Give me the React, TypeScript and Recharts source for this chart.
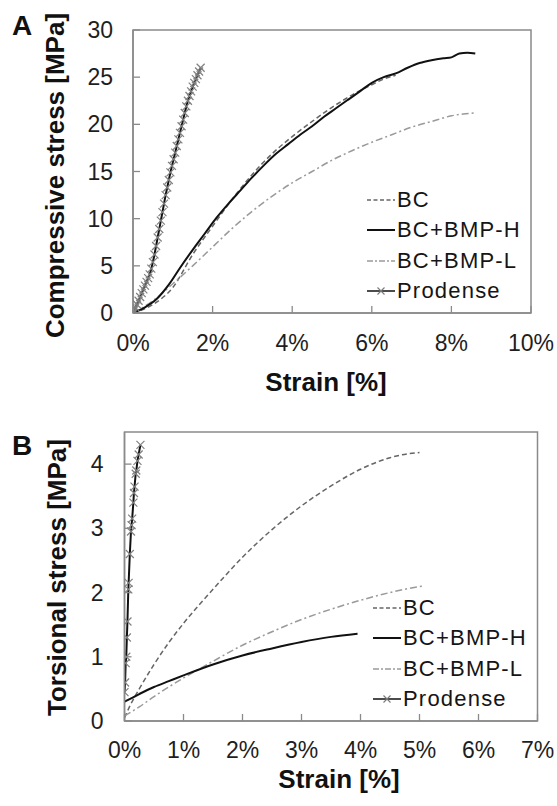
import React from 'react';
import { LineChart, Line, XAxis, YAxis, ReferenceArea, Legend, Label } from 'recharts';

const FONT = '"Liberation Sans", Arial, Helvetica, sans-serif';

// ---------- Panel A: compressive ----------
const compXTicks = [0, 2, 4, 6, 8, 10];
const compYTicks = [0, 5, 10, 15, 20, 25, 30];

const compStrainBC = [0, 0.5, 1.0, 1.5, 2.0, 2.5, 3.0, 3.5, 4.0, 4.5, 5.0, 5.5, 6.0, 6.3, 6.6];
const compStressBC = [0, 0.9, 2.7, 6.2, 9.2, 12.1, 14.7, 16.9, 18.7, 20.3, 21.8, 23.1, 24.2, 24.8, 25.2];

const compStrainH = [0, 0.3, 0.6, 0.9, 1.2, 1.5, 1.8, 2.1, 2.4, 2.7, 3.0, 3.3, 3.6, 3.9, 4.2, 4.5, 4.8, 5.1, 5.4, 5.7, 6.0, 6.3, 6.6, 6.9, 7.2, 7.5, 7.8, 8.0, 8.2, 8.4, 8.6];
const compStressH = [0, 0.6, 1.5, 3.0, 4.9, 6.7, 8.4, 10.1, 11.6, 13.0, 14.4, 15.7, 16.9, 17.9, 18.9, 19.8, 20.8, 21.7, 22.6, 23.5, 24.4, 25.0, 25.4, 26.0, 26.5, 26.8, 27.0, 27.1, 27.5, 27.6, 27.5];

const compStrainL = [0, 0.5, 1.0, 1.5, 2.0, 2.5, 3.0, 3.5, 4.0, 4.5, 5.0, 5.5, 6.0, 6.5, 7.0, 7.5, 8.0, 8.3, 8.6];
const compStressL = [0, 1.3, 3.1, 5.0, 7.0, 9.0, 10.8, 12.4, 13.8, 15.0, 16.2, 17.2, 18.1, 18.9, 19.7, 20.3, 20.9, 21.1, 21.2];

const compStrainP = [0, 0.03, 0.06, 0.10, 0.14, 0.18, 0.22, 0.26, 0.30, 0.34, 0.38, 0.42, 0.46, 0.50, 0.54, 0.58, 0.62, 0.66, 0.70, 0.74, 0.78, 0.82, 0.86, 0.90, 0.94, 0.98, 1.02, 1.06, 1.10, 1.14, 1.18, 1.22, 1.26, 1.30, 1.34, 1.38, 1.42, 1.46, 1.50, 1.54, 1.58, 1.62, 1.66, 1.70];
const compStressP = [0, 0.3, 0.6, 0.9, 1.3, 1.7, 2.1, 2.5, 2.9, 3.3, 3.7, 4.1, 4.7, 5.4, 6.2, 7.1, 8.0, 8.9, 9.8, 10.7, 11.6, 12.5, 13.3, 14.1, 14.9, 15.6, 16.3, 17.0, 17.7, 18.4, 19.1, 19.8, 20.5, 21.2, 21.9, 22.5, 23.0, 23.5, 24.0, 24.4, 24.8, 25.2, 25.6, 26.0];

// ---------- Panel B: torsional ----------
const torXTicks = [0, 1, 2, 3, 4, 5, 6, 7];
const torYTicks = [0, 1, 2, 3, 4];

const torStrainBC = [0, 0.1, 0.25, 0.5, 0.75, 1.0, 1.5, 2.0, 2.5, 3.0, 3.5, 4.0, 4.5, 4.8, 5.0];
const torStressBC = [0.05, 0.25, 0.5, 0.88, 1.22, 1.52, 2.05, 2.55, 2.98, 3.35, 3.66, 3.92, 4.1, 4.16, 4.18];

const torStrainH = [0, 0.25, 0.5, 0.75, 1.0, 1.5, 2.0, 2.5, 3.0, 3.5, 3.95];
const torStressH = [0.3, 0.42, 0.53, 0.62, 0.71, 0.88, 1.02, 1.13, 1.23, 1.31, 1.36];

const torStrainL = [0, 0.25, 0.5, 0.75, 1.0, 1.25, 1.5, 2.0, 2.5, 3.0, 3.5, 4.0, 4.5, 4.8, 5.05];
const torStressL = [0.08, 0.22, 0.38, 0.53, 0.67, 0.8, 0.93, 1.18, 1.39, 1.58, 1.74, 1.88, 2.0, 2.06, 2.1];

const torStrainP = [0.0, 0.01, 0.02, 0.03, 0.04, 0.05, 0.065, 0.07, 0.09, 0.11, 0.12, 0.13, 0.15, 0.16, 0.17, 0.19, 0.2, 0.22, 0.24, 0.27];
const torStressP = [0.45, 0.6, 0.9, 1.0, 1.3, 1.55, 2.05, 2.15, 2.6, 2.95, 3.05, 3.15, 3.4, 3.55, 3.65, 3.85, 3.9, 4.05, 4.15, 4.3];

const seriesNames = ['BC', 'BC+BMP-H', 'BC+BMP-L', 'Prodense'];

const toPts = (xs: number[], ys: number[]) => xs.map((x, i) => ({ x, y: ys[i] }));

const AXIS = '#8a8a8a';
const TICK_FS = 23;

const makeXTick = (labelOffset: number) => (props: any) => {
  const { x, y, payload } = props;
  return (
    <g>
      <line x1={x} x2={x} y1={y} y2={y - 7} stroke={AXIS} strokeWidth={1.3} />
      <text x={x} y={y + labelOffset} textAnchor="middle" dominantBaseline="central" fontSize={TICK_FS} fontFamily={FONT} fill="#1e1e1e">
        {payload.value}%
      </text>
    </g>
  );
};

const makeYTick = (labelGap: number) => (props: any) => {
  const { x, y, payload } = props;
  return (
    <g>
      <line x1={x} x2={x + 7} y1={y} y2={y} stroke={AXIS} strokeWidth={1.3} />
      <text x={x - labelGap} y={y} textAnchor="end" dominantBaseline="central" fontSize={TICK_FS} fontFamily={FONT} fill="#1e1e1e">
        {payload.value}
      </text>
    </g>
  );
};

const XMark = (props: any) => {
  const { cx, cy, index } = props;
  if (cx == null || cy == null) return <g key={index} />;
  const s = 4;
  return (
    <path
      key={index}
      d={`M${cx - s},${cy - s}L${cx + s},${cy + s}M${cx - s},${cy + s}L${cx + s},${cy - s}`}
      stroke="#808080"
      strokeWidth={1.2}
      fill="none"
    />
  );
};

const styles = {
  BC: { stroke: '#666', strokeWidth: 1.5, strokeDasharray: '5 3' },
  H: { stroke: '#111', strokeWidth: 2, strokeDasharray: undefined as any },
  L: { stroke: '#9a9a9a', strokeWidth: 1.5, strokeDasharray: '7 3 2 3' },
  P: { stroke: '#111', strokeWidth: 2, strokeDasharray: undefined as any },
};

const LegendBox = () => {
  const sample = (i: number) => {
    if (i === 0) return <line x1={0} x2={28} y1={10} y2={10} stroke="#666" strokeWidth={1.5} strokeDasharray="4 2.5" />;
    if (i === 1) return <line x1={0} x2={28} y1={10} y2={10} stroke="#111" strokeWidth={2} />;
    if (i === 2) return <line x1={0} x2={28} y1={10} y2={10} stroke="#9a9a9a" strokeWidth={1.5} strokeDasharray="6 2 2 2" />;
    return (
      <g>
        <line x1={0} x2={28} y1={10} y2={10} stroke="#111" strokeWidth={1.5} />
        <path d="M10.5,6.5L17.5,13.5M10.5,13.5L17.5,6.5" stroke="#7a7a7a" strokeWidth={1.1} />
      </g>
    );
  };
  return (
    <div>
      {seriesNames.map((n, i) => (
        <div key={n} style={{ display: 'flex', alignItems: 'center', height: 30.3 }}>
          <svg width={28} height={20} style={{ display: 'block' }}>{sample(i)}</svg>
          <span style={{ marginLeft: 2, fontSize: 22, fontFamily: FONT, letterSpacing: 1.2, color: '#151515', lineHeight: '22px' }}>{n}</span>
        </div>
      ))}
    </div>
  );
};

const titleStyle = { fontFamily: FONT, fontWeight: 700, fontSize: 26, fill: '#111' } as const;
const letterStyle = { fontFamily: FONT, fontWeight: 700, fontSize: 28, fill: '#111' } as const;

export default function App() {
  return (
    <div style={{ position: 'absolute', left: 0, top: 0, width: 557, height: 806, background: '#fff' }}>
      {/* Panel A */}
      <div style={{ position: 'absolute', left: 0, top: 0 }}>
        <LineChart width={557} height={400} margin={{ top: 30, right: 26, bottom: 0, left: 0 }}>
          <XAxis
            type="number"
            dataKey="x"
            domain={[0, 10]}
            ticks={compXTicks}
            allowDataOverflow
            height={87}
            tickSize={0}
            tickMargin={0}
            tickLine={false}
            tick={makeXTick(30)}
            axisLine={{ stroke: AXIS, strokeWidth: 1.5 }}
            interval={0}
          >
            <Label
              content={(p: any) => {
                const vb = p.viewBox;
                return (
                  <text x={vb.x + vb.width / 2 - 6} y={vb.y + 78} textAnchor="middle" style={titleStyle}>
                    Strain [%]
                  </text>
                );
              }}
            />
          </XAxis>
          <YAxis
            type="number"
            dataKey="y"
            domain={[0, 30]}
            ticks={compYTicks}
            allowDataOverflow
            width={133}
            tickSize={0}
            tickMargin={0}
            tickLine={false}
            tick={makeYTick(20)}
            axisLine={{ stroke: AXIS, strokeWidth: 1.5 }}
            interval={0}
          >
            <Label
              content={(p: any) => {
                const vb = p.viewBox;
                const cx = 64;
                const cy = vb.y + vb.height / 2 + 4;
                return (
                  <text x={cx} y={cy} transform={`rotate(-90, ${cx}, ${cy})`} textAnchor="middle" style={titleStyle}>
                    Compressive stress [MPa]
                  </text>
                );
              }}
            />
          </YAxis>
          <ReferenceArea x1={0} x2={10} y1={0} y2={30} fill="none" stroke={AXIS} strokeWidth={1.5} ifOverflow="visible" />
          <Line data={toPts(compStrainBC, compStressBC)} dataKey="y" name="BC" type="monotone" {...styles.BC} dot={false} activeDot={false} isAnimationActive={false} />
          <Line data={toPts(compStrainL, compStressL)} dataKey="y" name="BC+BMP-L" type="monotone" {...styles.L} dot={false} activeDot={false} isAnimationActive={false} />
          <Line data={toPts(compStrainH, compStressH)} dataKey="y" name="BC+BMP-H" type="monotone" {...styles.H} dot={false} activeDot={false} isAnimationActive={false} />
          <Line data={toPts(compStrainP, compStressP)} dataKey="y" name="Prodense" type="monotone" {...styles.P} dot={XMark} activeDot={false} isAnimationActive={false} />
          <Legend
            layout="vertical"
            align="center"
            verticalAlign="middle"
            content={() => <LegendBox />}
            wrapperStyle={{ position: 'absolute', left: 367, top: 185, width: 185, height: 124 }}
          />
        </LineChart>
        <svg width={40} height={40} style={{ position: 'absolute', left: 0, top: 0 }}>
          <text x={12} y={35} style={letterStyle}>A</text>
        </svg>
      </div>

      {/* Panel B */}
      <div style={{ position: 'absolute', left: 0, top: 400 }}>
        <LineChart width={557} height={406} margin={{ top: 32, right: 19.5, bottom: 0, left: 0 }}>
          <XAxis
            type="number"
            dataKey="x"
            domain={[0, 7]}
            ticks={torXTicks}
            allowDataOverflow
            height={85}
            tickSize={0}
            tickMargin={0}
            tickLine={false}
            tick={makeXTick(29)}
            axisLine={{ stroke: AXIS, strokeWidth: 1.5 }}
            interval={0}
          >
            <Label
              content={(p: any) => {
                const vb = p.viewBox;
                return (
                  <text x={vb.x + vb.width / 2 + 8} y={vb.y + 67} textAnchor="middle" style={titleStyle}>
                    Strain [%]
                  </text>
                );
              }}
            />
          </XAxis>
          <YAxis
            type="number"
            dataKey="y"
            domain={[0, 4.5]}
            ticks={torYTicks}
            allowDataOverflow
            width={124.5}
            tickSize={0}
            tickMargin={0}
            tickLine={false}
            tick={makeYTick(21)}
            axisLine={{ stroke: AXIS, strokeWidth: 1.5 }}
            interval={0}
          >
            <Label
              content={(p: any) => {
                const vb = p.viewBox;
                const cx = 66;
                const cy = vb.y + vb.height / 2 + 1;
                return (
                  <text x={cx} y={cy} transform={`rotate(-90, ${cx}, ${cy})`} textAnchor="middle" style={titleStyle}>
                    Torsional stress [MPa]
                  </text>
                );
              }}
            />
          </YAxis>
          <ReferenceArea x1={0} x2={7} y1={0} y2={4.5} fill="none" stroke={AXIS} strokeWidth={1.5} ifOverflow="visible" />
          <Line data={toPts(torStrainBC, torStressBC)} dataKey="y" name="BC" type="monotone" {...styles.BC} dot={false} activeDot={false} isAnimationActive={false} />
          <Line data={toPts(torStrainL, torStressL)} dataKey="y" name="BC+BMP-L" type="monotone" {...styles.L} dot={false} activeDot={false} isAnimationActive={false} />
          <Line data={toPts(torStrainH, torStressH)} dataKey="y" name="BC+BMP-H" type="monotone" {...styles.H} dot={false} activeDot={false} isAnimationActive={false} />
          <Line data={toPts(torStrainP, torStressP)} dataKey="y" name="Prodense" type="linear" {...styles.P} dot={XMark} activeDot={false} isAnimationActive={false} />
          <Legend
            layout="vertical"
            align="center"
            verticalAlign="middle"
            content={() => <LegendBox />}
            wrapperStyle={{ position: 'absolute', left: 373, top: 193, width: 180, height: 124 }}
          />
        </LineChart>
        <svg width={40} height={40} style={{ position: 'absolute', left: 0, top: 30 }}>
          <text x={12} y={25} style={letterStyle}>B</text>
        </svg>
      </div>
    </div>
  );
}
